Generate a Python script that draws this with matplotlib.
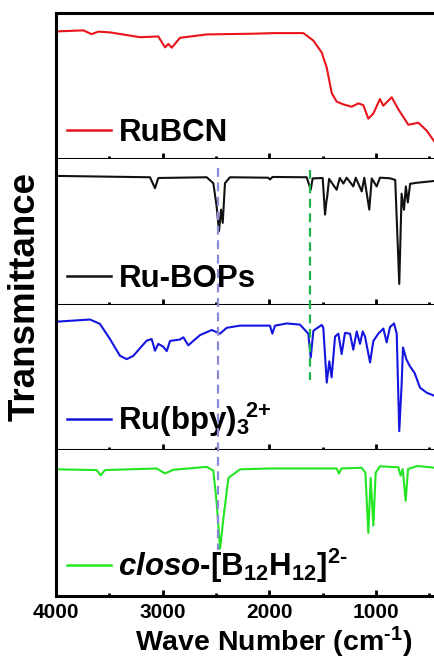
import numpy as np
import matplotlib.pyplot as plt
from matplotlib.lines import Line2D
from matplotlib.transforms import blended_transform_factory

plt.rcParams['font.family'] = ['Liberation Sans', 'DejaVu Sans']
plt.rcParams['font.weight'] = 'bold'
plt.rcParams['mathtext.fontset'] = 'custom'
plt.rcParams['mathtext.rm'] = 'Liberation Sans:bold'
plt.rcParams['mathtext.bf'] = 'Liberation Sans:bold'
plt.rcParams['mathtext.it'] = 'Liberation Sans:italic:bold'
plt.rcParams['mathtext.default'] = 'bf'

# FTIR spectra, wavenumber (cm-1) vs. transmittance scaled to each panel (0..1)
rubcn_wn = [3978, 3744, 3666, 3603, 3494, 3212, 3041, 2978, 2947, 2915, 2837, 2587,
            2150, 1963, 1681, 1588, 1509, 1462, 1415, 1369, 1306, 1228, 1166, 1119,
            1072, 1025, 963, 932, 853, 791, 697, 603, 525, 447]
rubcn_t = [0.874, 0.881, 0.855, 0.872, 0.867, 0.834, 0.839, 0.764, 0.788, 0.762, 0.830, 0.853,
           0.858, 0.862, 0.862, 0.811, 0.729, 0.625, 0.450, 0.392, 0.373, 0.357, 0.380, 0.368,
           0.275, 0.310, 0.410, 0.364, 0.422, 0.340, 0.233, 0.247, 0.193, 0.112]

rubops_wn = [3978, 3119, 3072, 3041, 2587, 2525, 2494, 2472, 2453, 2437, 2416, 2369,
             2010, 1994, 1970, 1650, 1612, 1594, 1500, 1478, 1466, 1456, 1440, 1369,
             1340, 1306, 1275, 1213, 1190, 1134, 1110, 1063, 1040, 994, 963, 870,
             820, 782, 760, 738, 720, 702, 680, 620, 447]
rubops_t = [0.882, 0.873, 0.798, 0.868, 0.873, 0.832, 0.673, 0.503, 0.651, 0.560, 0.832, 0.873,
            0.870, 0.858, 0.875, 0.873, 0.787, 0.865, 0.868, 0.617, 0.700, 0.750, 0.862, 0.787,
            0.868, 0.830, 0.870, 0.810, 0.870, 0.776, 0.870, 0.651, 0.865, 0.810, 0.870, 0.866,
            0.855, 0.141, 0.760, 0.650, 0.810, 0.700, 0.828, 0.835, 0.848]

rubpy_wn = [3978, 3681, 3588, 3494, 3400, 3337, 3275, 3150, 3103, 3072, 3041, 2994,
            2962, 2931, 2837, 2806, 2760, 2650, 2540, 2462, 2400, 2275, 1994, 1972,
            1947, 1837, 1713, 1635, 1612, 1587, 1509, 1494, 1462, 1438, 1416, 1384,
            1353, 1322, 1291, 1244, 1213, 1181, 1150, 1125, 1103, 1056, 1025, 978,
            931, 900, 869, 831, 806, 782, 760, 747, 716, 685, 638, 588, 525, 447]
rubpy_t = [0.883, 0.897, 0.867, 0.763, 0.648, 0.625, 0.648, 0.752, 0.763, 0.683, 0.730, 0.710,
           0.680, 0.750, 0.760, 0.775, 0.720, 0.790, 0.825, 0.800, 0.840, 0.855, 0.855, 0.800,
           0.855, 0.870, 0.862, 0.800, 0.637, 0.820, 0.860, 0.840, 0.464, 0.610, 0.500, 0.780,
           0.800, 0.660, 0.805, 0.800, 0.690, 0.815, 0.730, 0.815, 0.780, 0.602, 0.750, 0.800,
           0.835, 0.740, 0.845, 0.870, 0.800, 0.131, 0.450, 0.705, 0.625, 0.580, 0.530, 0.430,
           0.395, 0.372]

closo_wn = [3978, 3619, 3581, 3541, 3056, 2978, 2900, 2587, 2525, 2494, 2462, 2431,
            2384, 2275, 1994, 1369, 1347, 1325, 1135, 1100, 1072, 1050, 1025, 1003,
            963, 791, 769, 750, 722, 700, 613, 447]
closo_t = [0.869, 0.864, 0.828, 0.864, 0.875, 0.841, 0.866, 0.886, 0.860, 0.641, 0.324, 0.530,
           0.810, 0.869, 0.875, 0.875, 0.840, 0.875, 0.880, 0.846, 0.433, 0.810, 0.483, 0.846,
           0.890, 0.883, 0.826, 0.871, 0.653, 0.871, 0.892, 0.880]

labels = ['RuBCN', 'Ru-BOPs', r'Ru(bpy)$_{3}\!{}^{2{+}}$',
          r'$\mathit{closo}$-[B$_{12}$H$_{12}$]$^{2\text{-}}$']
colors = ['#e8141b', '#111111', '#1515e0', '#22e622']
spectra = [(rubcn_wn, rubcn_t), (rubops_wn, rubops_t),
           (rubpy_wn, rubpy_t), (closo_wn, closo_t)]

fig = plt.figure(figsize=(4.35, 6.59), dpi=100)
gs = fig.add_gridspec(4, 1, left=56 / 435, right=1.0, top=1 - 13 / 659,
                      bottom=1 - 596 / 659, hspace=0)
axes = [fig.add_subplot(gs[i]) for i in range(4)]

for i, ax in enumerate(axes):
    wn, t = spectra[i]
    ax.plot(wn, t, color=colors[i], lw=1.5, label=labels[i])
    ax.set_xlim(4000, 447)
    ax.set_ylim(0, 1)
    ax.set_yticks([])
    ax.set_xticks([4000, 3000, 2000, 1000])
    ax.set_xticks([3500, 2500, 1500, 500], minor=True)
    ax.tick_params(axis='x', which='major', direction='in', length=4, width=2,
                   top=False, labelsize=15, pad=5)
    ax.tick_params(axis='x', which='minor', direction='in', length=2, width=2, top=False)
    for s in ax.spines.values():
        s.set_linewidth(2.2)
    ax.spines['right'].set_visible(False)
    if i > 0:
        ax.spines['top'].set_visible(False)
    if i < 3:
        ax.tick_params(axis='x', labelbottom=False)
    ax.legend(loc='lower left', frameon=False, handlelength=1.4,
              handletextpad=0.25, borderpad=0.05, borderaxespad=0.3,
              prop={'weight': 'bold', 'size': 22.5})
    for lh in ax.get_legend().get_lines():
        lh.set_linewidth(1.8)

# marker lines for the B-H and C=N bands
trans = blended_transform_factory(axes[0].transData, fig.transFigure)
fig.add_artist(Line2D([2480, 2480], [1 - 168 / 659, 1 - 550 / 659], transform=trans,
                      color='#8a8ad8', lw=1.6, ls=(0, (4, 2.5))))
fig.add_artist(Line2D([1620, 1620], [1 - 170 / 659, 1 - 380 / 659], transform=trans,
                      color='#1fb34a', lw=1.6, ls=(0, (4, 2.5))))

fig.text(25 / 435, 1 - 297 / 659, 'Transmittance', rotation=90, ha='center',
         va='center', fontsize=26.5, fontweight='bold')
fig.text(274 / 435, 1 - 642 / 659, r'Wave Number (cm$^{\text{-}1}$)', ha='center',
         va='center', fontsize=20.5, fontweight='bold')

fig.savefig('out.png', dpi=100)
